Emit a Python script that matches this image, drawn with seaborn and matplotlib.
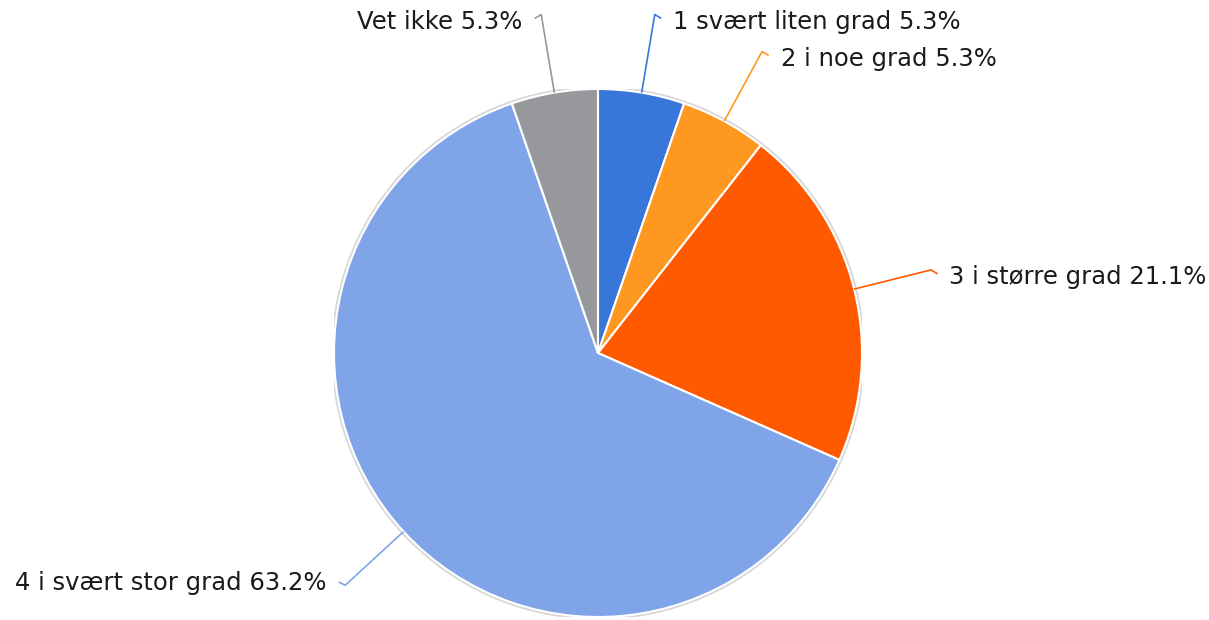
import numpy as np
import matplotlib.pyplot as plt
import seaborn as sns

sns.set_style('white')
plt.rcParams['font.family'] = ['DejaVu Sans']

# data
labels = ['1 svært liten grad', '2 i noe grad', '3 i større grad',
          '4 i svært stor grad', 'Vet ikke']
values = [5.3, 5.3, 21.1, 63.2, 5.3]
colors = ['#3876d9', '#ff9820', '#ff5a00', '#7fa5e8', '#97989b']

W, H = 1209, 620
cx, cy, r = 598, 353, 264

fig = plt.figure(figsize=(W / 100, H / 100), dpi=100)
ax = fig.add_axes([(cx - r) / W, (H - cy - r) / H, 2 * r / W, 2 * r / H])

# faint grey rim around the pie
ax.add_patch(plt.Circle((0, 0), 1.008, color='#d8d8d8', zorder=0))

wedges, _ = ax.pie(values, colors=colors, startangle=90, counterclock=False,
                   radius=1.0,
                   wedgeprops=dict(edgecolor='white', linewidth=1.5))

for w, lab, val, col in zip(wedges, labels, values, colors):
    mid = np.deg2rad((w.theta1 + w.theta2) / 2)
    x0, y0 = np.cos(mid), np.sin(mid)
    x1, y1 = 1.3 * x0, 1.3 * y0
    side = 1 if x0 >= 0 else -1
    dy = -0.015 if y0 > 0 else 0.012
    ax.plot([x0, x1, x1 + side * 0.025], [y0, y1, y1 + dy],
            color=col, lw=1.2, clip_on=False, solid_capstyle='butt')
    ax.text(x1 + side * 0.07, y1 + (-0.028 if y0 > 0 else 0.008),
            f'{lab} {val}%',
            ha='left' if side > 0 else 'right', va='center',
            fontsize=17.5, color='#1a1a1a', clip_on=False)

ax.set_xlim(-1, 1)
ax.set_ylim(-1, 1)
ax.set_aspect('equal')
ax.axis('off')

fig.savefig('out.png', dpi=100)
